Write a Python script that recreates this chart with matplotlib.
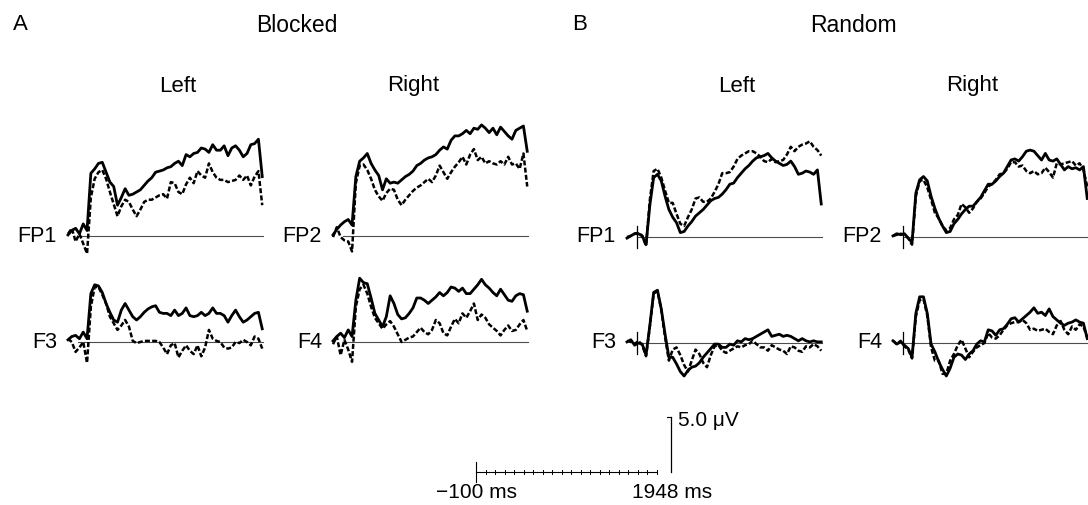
#!/usr/bin/env python
# -*- coding: utf-8 -*-
# ERP waveforms, blocked vs random, frontal sites (FP1/FP2, F3/F4)
import numpy as np
import matplotlib
matplotlib.use('Agg')
import matplotlib.pyplot as plt

plt.rcParams['font.family'] = ['Liberation Sans', 'DejaVu Sans']

# sample times in ms (-100 .. 1940, every 40 ms)
t_ms = np.arange(-100, 1941, 40)

# amplitudes in microvolts
blocked_left_fp1_solid = [0.1, 0.5, 0.7, 0.2, 1.1, 0.5, 5.7, 6.1, 6.6, 6.7, 5.8, 4.9, 4.5, 2.8, 3.5, 4.3,
                          3.7, 3.8, 4.0, 4.2, 4.6, 5.0, 5.3, 5.8, 5.9, 6.0, 6.2, 6.3, 6.6, 6.8, 6.4, 7.4,
                          7.2, 7.5, 7.6, 8.0, 7.9, 7.6, 8.3, 7.8, 7.8, 8.2, 7.3, 8.0, 8.2, 7.8, 7.2, 7.5,
                          8.3, 8.4, 8.8, 5.4]
blocked_left_fp1_dashed = [0.2, 0.7, -0.5, 0.2, -0.7, -1.6, 3.5, 5.2, 5.8, 6.0, 5.2, 4.0, 2.9, 1.8, 2.7, 3.3,
                           3.1, 2.4, 1.8, 2.4, 3.1, 3.3, 3.3, 3.5, 3.7, 3.8, 3.4, 4.9, 4.8, 4.0, 3.8, 4.7,
                           5.3, 4.8, 5.9, 5.5, 5.3, 6.6, 5.8, 5.3, 5.1, 5.1, 4.9, 5.0, 5.1, 5.5, 5.1, 5.5,
                           4.6, 5.4, 5.9, 2.8]
blocked_right_fp2_solid = [0.1, 0.6, 1.0, 1.3, 1.5, 1.0, 5.4, 6.8, 7.1, 7.5, 6.6, 6.0, 5.5, 4.2, 5.2, 4.8,
                           4.9, 4.8, 5.1, 5.4, 5.6, 5.9, 6.4, 6.6, 6.9, 7.1, 7.2, 7.4, 7.8, 8.1, 7.9, 8.7,
                           9.1, 9.1, 9.3, 9.6, 9.3, 9.8, 9.7, 10.1, 9.8, 9.4, 9.8, 9.2, 9.9, 9.5, 9.1, 8.8,
                           9.6, 9.8, 10.0, 7.7]
blocked_right_fp2_dashed = [-0.1, 0.8, -0.1, -0.4, -0.5, -1.4, 4.8, 6.4, 6.5, 6.0, 5.2, 4.2, 3.6, 3.2, 3.9, 4.3,
                            4.2, 3.3, 2.8, 3.3, 3.7, 4.1, 4.4, 4.6, 4.9, 5.2, 4.9, 5.5, 6.4, 5.8, 5.2, 5.8,
                            6.3, 6.7, 7.2, 6.5, 7.4, 7.9, 6.9, 7.2, 6.6, 6.8, 6.6, 6.5, 6.8, 6.5, 7.2, 6.5,
                            6.6, 6.1, 7.5, 4.5]
blocked_left_f3_solid = [0.2, 0.5, 0.6, 0.3, 0.9, 0.3, 4.4, 5.2, 5.1, 4.5, 3.5, 2.7, 2.0, 1.8, 2.9, 3.5,
                         2.9, 2.3, 2.0, 2.3, 2.7, 3.0, 3.2, 3.3, 2.7, 2.6, 2.6, 2.4, 2.9, 2.4, 2.6, 3.1,
                         2.4, 2.3, 2.4, 2.7, 2.4, 2.6, 3.1, 2.6, 2.6, 2.4, 1.8, 2.4, 2.9, 2.3, 1.8, 2.0,
                         2.3, 2.6, 2.7, 1.2]
blocked_left_f3_dashed = [0.3, 0.0, -0.9, -0.5, 0.0, -1.9, 3.2, 5.0, 5.0, 4.3, 3.5, 2.3, 1.7, 1.1, 1.5, 2.0,
                          1.4, 0.1, -0.1, 0.0, 0.1, 0.1, 0.1, 0.1, 0.0, -0.5, -1.1, -0.3, -0.1, -1.4, -0.8, -0.3,
                          -0.8, -1.1, -0.3, -1.3, -0.5, 1.1, 0.3, 0.1, 0.0, -0.5, -0.6, -0.5, 0.0, -0.1, 0.2, 0.0,
                          -0.3, 0.5, 0.3, -0.6]
blocked_right_f4_solid = [0.1, 0.5, 0.8, 0.4, 1.1, 0.5, 3.8, 5.8, 5.4, 5.3, 4.0, 2.6, 2.0, 1.4, 2.3, 4.2,
                          3.5, 2.5, 2.1, 2.2, 2.6, 3.1, 4.0, 4.0, 3.8, 3.5, 3.8, 4.1, 4.5, 4.2, 4.5, 5.0,
                          4.9, 4.6, 4.9, 4.4, 4.4, 4.8, 5.2, 5.7, 5.2, 4.9, 4.5, 4.2, 4.8, 4.3, 3.8, 3.7,
                          4.2, 4.4, 4.3, 2.8]
blocked_right_f4_dashed = [-0.2, 0.5, -1.2, 0.2, -0.7, -1.8, 3.2, 4.8, 5.2, 4.4, 3.2, 2.2, 1.7, 1.2, 1.6, 1.9,
                           1.4, 0.7, 0.0, 0.2, 0.4, 0.5, 0.9, 1.3, 0.9, 0.7, 1.1, 2.0, 1.7, 0.8, 0.6, 1.4,
                           2.1, 1.7, 2.6, 2.2, 2.8, 3.5, 2.0, 2.5, 2.2, 1.6, 1.3, 1.0, 0.6, 1.1, 1.5, 1.0,
                           1.1, 1.6, 2.0, 1.0]

random_left_fp1_solid = [-0.1, 0.1, 0.3, 0.3, 0.1, -0.7, 2.9, 5.4, 5.7, 5.1, 3.7, 2.5, 1.8, 1.3, 0.4, 0.5,
                         1.0, 1.4, 1.9, 2.2, 2.5, 2.9, 3.3, 3.5, 3.6, 3.9, 4.3, 4.8, 4.9, 5.4, 5.8, 6.2,
                         6.5, 6.9, 7.2, 7.3, 7.4, 7.6, 7.2, 6.9, 6.7, 6.5, 6.6, 6.9, 6.4, 5.7, 5.8, 6.0,
                         5.9, 5.7, 6.1, 3.0]
random_left_fp1_dashed = [0.0, 0.1, 0.3, 0.4, 0.1, -0.8, 3.4, 6.0, 6.2, 5.4, 4.2, 3.1, 3.1, 2.1, 1.2, 1.0,
                          1.8, 2.5, 3.5, 3.6, 3.2, 3.2, 3.5, 4.1, 4.8, 5.8, 5.8, 5.9, 6.4, 7.1, 7.4, 7.6,
                          7.8, 7.8, 7.6, 7.3, 6.9, 6.8, 7.1, 6.8, 6.9, 7.0, 7.5, 8.2, 7.8, 8.2, 8.4, 8.5,
                          8.7, 8.2, 7.9, 7.4]
random_right_fp2_solid = [0.1, 0.3, 0.2, 0.3, -0.1, -0.5, 4.0, 5.2, 5.5, 5.1, 3.7, 2.6, 1.7, 1.0, 0.4, 0.5,
                          1.2, 1.6, 2.1, 2.5, 2.8, 2.8, 3.2, 3.6, 4.2, 4.8, 4.8, 5.1, 5.5, 5.8, 6.4, 7.0,
                          7.1, 6.9, 7.3, 7.8, 7.9, 7.8, 7.4, 7.0, 7.6, 7.0, 6.9, 7.1, 6.6, 6.1, 6.4, 6.2,
                          6.3, 6.1, 6.4, 3.5]
random_right_fp2_dashed = [0.1, 0.2, 0.3, 0.2, -0.1, -0.7, 3.7, 5.1, 5.2, 4.5, 3.4, 2.2, 1.7, 1.0, 0.6, 0.8,
                           1.6, 2.0, 3.0, 2.7, 2.2, 2.6, 3.2, 3.5, 4.0, 4.6, 4.8, 5.2, 5.7, 5.8, 6.2, 6.8,
                           6.8, 6.4, 6.5, 6.0, 5.8, 6.0, 5.7, 5.8, 6.3, 5.9, 5.4, 6.7, 6.6, 6.7, 6.8, 6.9,
                           6.5, 6.7, 6.1, 4.6]
random_left_f3_solid = [0.1, 0.3, -0.2, 0.0, -0.1, -1.1, 1.6, 4.6, 4.8, 3.1, 0.8, -1.3, -1.3, -1.9, -2.6, -3.0,
                        -2.5, -2.2, -2.1, -1.8, -1.3, -0.9, -0.5, -0.1, -0.1, -0.4, -0.4, -0.1, -0.2, 0.2, 0.1, 0.4,
                        0.3, 0.4, 0.6, 0.8, 1.0, 1.2, 0.6, 0.7, 0.8, 0.6, 0.7, 0.6, 0.4, 0.2, 0.4, 0.2,
                        0.1, 0.2, 0.1, 0.1]
random_left_f3_dashed = [0.2, 0.1, -0.1, 0.2, -0.2, -1.2, 1.5, 4.5, 4.7, 3.0, 0.5, -1.6, -0.6, -0.4, -1.1, -2.0,
                         -2.6, -1.6, -0.6, -1.0, -1.8, -2.2, -1.1, -0.3, -0.2, -0.7, -0.9, -0.7, -0.5, -0.3, -0.4, -0.2,
                         -0.1, 0.2, -0.1, -0.4, -0.4, -0.7, -0.2, -0.4, -0.6, -0.7, -1.0, -0.3, -0.4, -0.7, -0.8, -0.3,
                         -0.4, -0.1, -0.3, -0.7]
random_right_f4_solid = [0.2, -0.1, 0.1, -0.2, -0.5, -1.3, 2.7, 4.2, 4.2, 2.7, -0.1, -0.8, -1.7, -2.4, -3.0, -2.3,
                         -1.3, -1.0, -1.1, -1.5, -1.0, -0.7, -0.1, 0.2, 0.1, 1.2, 1.1, 0.7, 1.2, 1.3, 1.7, 2.2,
                         2.3, 1.9, 2.2, 2.5, 2.8, 3.2, 2.7, 2.8, 2.5, 3.1, 2.4, 2.1, 1.8, 1.6, 1.8, 1.9,
                         2.1, 1.9, 1.8, 0.4]
random_right_f4_dashed = [0.2, -0.1, 0.2, -0.3, -0.6, -1.4, 2.4, 3.9, 4.0, 2.5, -0.4, -1.6, -1.6, -2.8, -2.8, -1.6,
                          -1.0, -0.2, 0.3, -0.5, -1.3, -0.8, -0.4, -0.2, 0.0, 0.9, 0.5, 0.4, 0.7, 1.2, 1.6, 1.8,
                          1.9, 1.9, 2.1, 1.8, 1.2, 1.3, 1.1, 1.2, 1.3, 1.0, 0.8, 1.6, 2.0, 1.2, 0.8, 1.5,
                          1.2, 1.7, 1.5, 0.5]

# scale bar
scale_start_ms = -100
scale_end_ms = 1948
scale_tick_ms = np.arange(-100, 1801, 100)
scale_uv = 5.0

W, H = 1088, 505
SPAN_PX = 195.0      # width of one trace in pixels
UV_PX = 11.0         # pixels per microvolt
Y_LO, Y_HI = -5.0, 12.0


def trace_axes(fig, x_left, y_base):
  top = y_base - Y_HI * UV_PX
  bottom = y_base - Y_LO * UV_PX
  ax = fig.add_axes([x_left / W, 1 - bottom / H, SPAN_PX / W, (bottom - top) / H])
  ax.set_xlim(-100, 1948)
  ax.set_ylim(Y_LO, Y_HI)
  ax.axis('off')
  return ax


def draw_panel(fig, x_left, y_base, label, solid, dashed, onset_tick):
  ax = trace_axes(fig, x_left, y_base)
  ax.plot([0, 1948], [0, 0], color='0.3', lw=0.8, clip_on=False)
  if onset_tick:
    ax.plot([0, 0], [-1.0, 1.0], color='black', lw=0.9, clip_on=False)
  ax.plot(t_ms, dashed, color='black', lw=1.8, ls=(0, (2.0, 0.9)), clip_on=False)
  ax.plot(t_ms, solid, color='black', lw=2.0, clip_on=False)
  ax.annotate(label, xy=(-100, 0), xycoords='data', xytext=(-8, 0),
              textcoords='offset points', ha='right', va='center', fontsize=15.5)


def main():
  fig = plt.figure(figsize=(W / 100.0, H / 100.0), dpi=100)

  # panel A (blocked)
  draw_panel(fig, 68, 236, 'FP1', blocked_left_fp1_solid, blocked_left_fp1_dashed, False)
  draw_panel(fig, 333, 236, 'FP2', blocked_right_fp2_solid, blocked_right_fp2_dashed, False)
  draw_panel(fig, 68, 342, 'F3', blocked_left_f3_solid, blocked_left_f3_dashed, False)
  draw_panel(fig, 333, 342, 'F4', blocked_right_f4_solid, blocked_right_f4_dashed, False)
  # panel B (random)
  draw_panel(fig, 627, 237, 'FP1', random_left_fp1_solid, random_left_fp1_dashed, True)
  draw_panel(fig, 893, 237, 'FP2', random_right_fp2_solid, random_right_fp2_dashed, True)
  draw_panel(fig, 627, 343, 'F3', random_left_f3_solid, random_left_f3_dashed, True)
  draw_panel(fig, 893, 343, 'F4', random_right_f4_solid, random_right_f4_dashed, True)

  # headings
  def ftext(x, y, s, size, ha='center'):
    fig.text(x / W, 1 - y / H, s, ha=ha, va='center', fontsize=size)
  ftext(13, 25, 'A', 16, ha='left')
  ftext(297, 25, 'Blocked', 16.5)
  ftext(178, 86, 'Left', 16)
  ftext(413, 86, 'Right', 16)
  ftext(572, 25, 'B', 16, ha='left')
  ftext(853, 25, 'Random', 16.5)
  ftext(737, 86, 'Left', 16)
  ftext(972, 86, 'Right', 16)

  # calibration bar
  sb = trace_axes(fig, 476, 472)
  sb.plot([scale_start_ms, scale_tick_ms[-1]], [0, 0], color='black', lw=0.8, clip_on=False)
  sb.plot([scale_start_ms, scale_start_ms], [-0.9, 0.9], color='black', lw=0.8, clip_on=False)
  for tk in scale_tick_ms[1:]:
    sb.plot([tk, tk], [-0.2, 0.2], color='black', lw=0.7, clip_on=False)
  sb.plot([scale_end_ms, scale_end_ms], [0, scale_uv], color='black', lw=0.9, clip_on=False)
  sb.plot([scale_end_ms - 40, scale_end_ms], [scale_uv, scale_uv], color='black', lw=0.8, clip_on=False)
  ftext(476, 493, '\u2212100 ms', 15)
  ftext(672, 493, '1948 ms', 15)
  ftext(678, 420, '5.0 \u03bcV', 15, ha='left')

  fig.savefig('out.png', dpi=100)


if __name__ == "__main__":
  main()
